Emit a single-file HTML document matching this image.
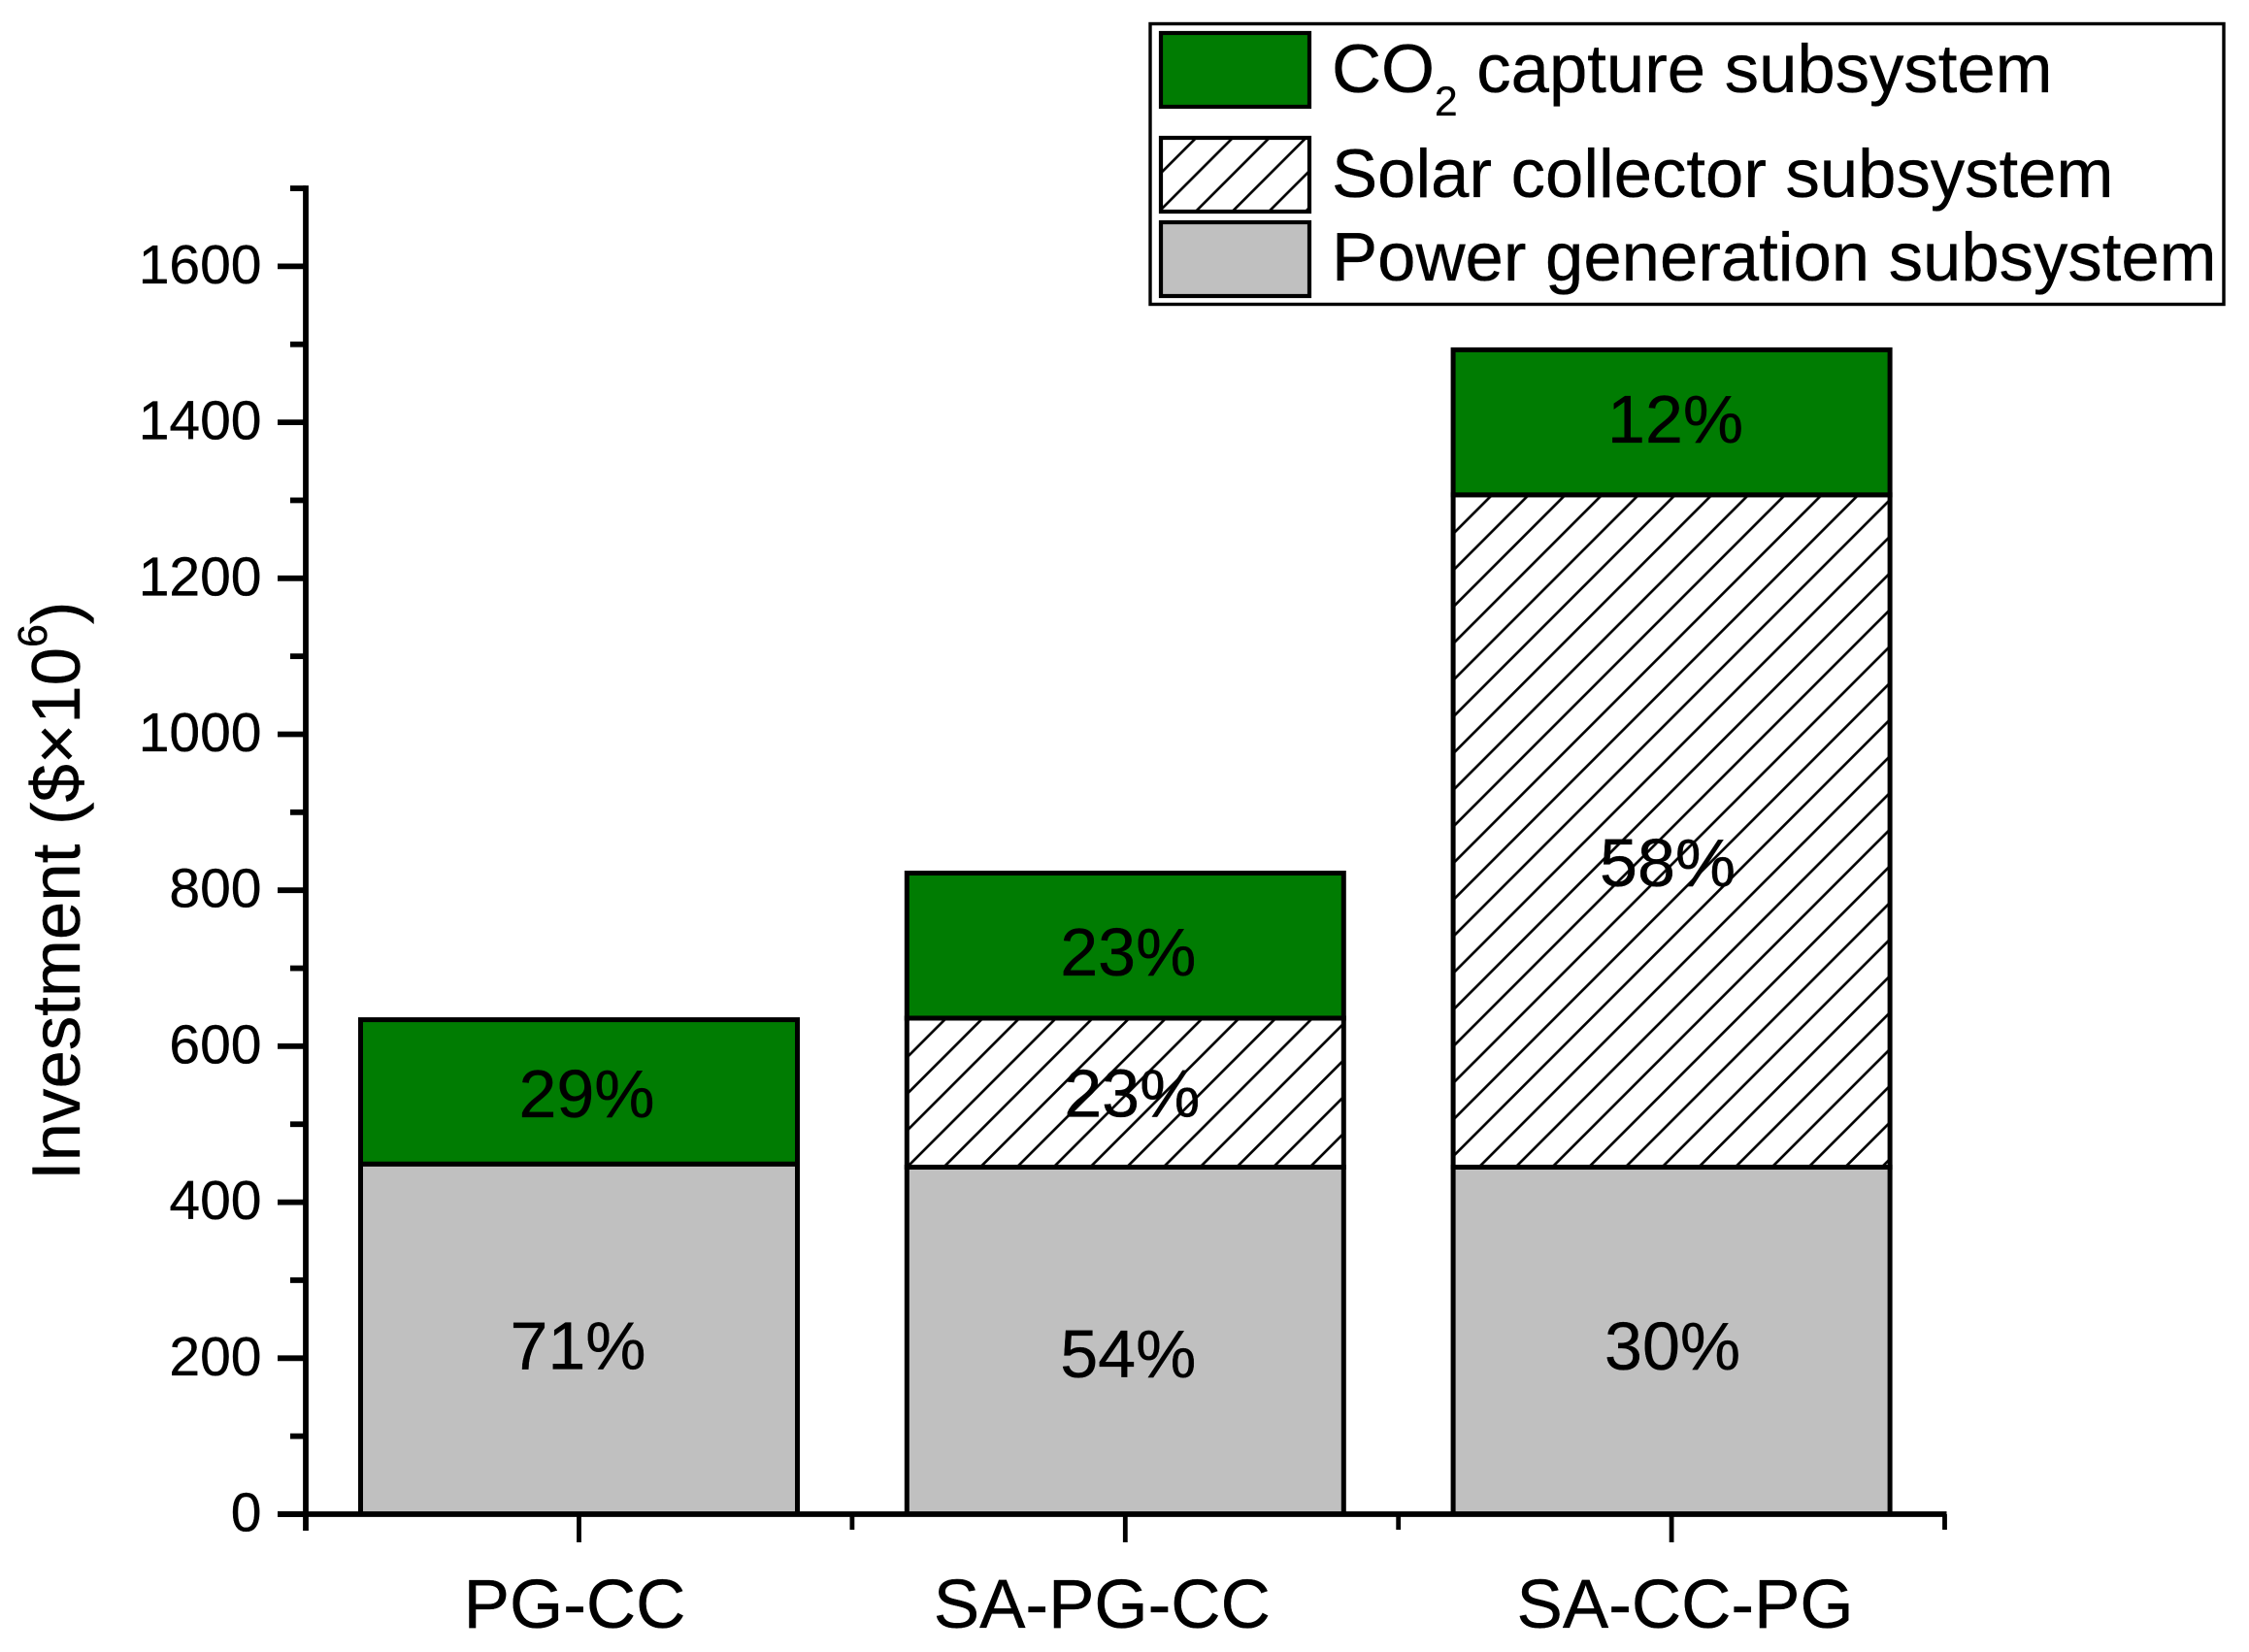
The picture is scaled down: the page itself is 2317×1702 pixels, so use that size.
<!DOCTYPE html>
<html lang="en">
<head>
<meta charset="utf-8">
<title>Investment by subsystem</title>
<style>
html,body{margin:0;padding:0;background:#fff}
svg{display:block}
text{font-family:"Liberation Sans",Arial,sans-serif;fill:#000;stroke:#000;stroke-width:.35px}
</style>
</head>
<body>
<svg id="chart" xmlns="http://www.w3.org/2000/svg" width="2317" height="1702" viewBox="0 0 2317 1702">
  <defs>
    <pattern id="hatch-bar-2" patternUnits="userSpaceOnUse" width="37.73" height="37.73" patternTransform="translate(24.1 0)">
      <rect width="37.73" height="37.73" fill="#fff"/>
      <path d="M-4 41.73L41.73 -4M-4 4L4 -4M33.73 41.73L41.73 33.73" stroke="#000" stroke-width="2.7" fill="none"/>
    </pattern>
    <pattern id="hatch-bar-3" patternUnits="userSpaceOnUse" width="37.73" height="37.73" patternTransform="translate(9.6 0)">
      <rect width="37.73" height="37.73" fill="#fff"/>
      <path d="M-4 41.73L41.73 -4M-4 4L4 -4M33.73 41.73L41.73 33.73" stroke="#000" stroke-width="2.7" fill="none"/>
    </pattern>
    <pattern id="hatch-legend" patternUnits="userSpaceOnUse" width="37.73" height="37.73" patternTransform="translate(16 0)">
      <rect width="37.73" height="37.73" fill="#fff"/>
      <path d="M-4 41.73L41.73 -4M-4 4L4 -4M33.73 41.73L41.73 33.73" stroke="#000" stroke-width="2.7" fill="none"/>
    </pattern>
  </defs>

  <g id="bars"></g>
  <g id="bar-labels"></g>
  <g id="axes"></g>

  <text transform="translate(82 1216) rotate(-90)" font-size="70.8">Investment ($×10<tspan dy="-34" font-size="43">6</tspan><tspan dy="34">)</tspan></text>

  <g>
    <rect x="1185" y="24.5" width="1106" height="289" fill="#fff" stroke="#000" stroke-width="3.4"/>
    <rect x="1196" y="34" width="153" height="76" fill="#007c02" stroke="#000" stroke-width="4.2"/>
    <text x="1372" y="95" font-size="70.7">CO<tspan dy="24" font-size="42.5">2</tspan><tspan dy="-24"> capture subsystem</tspan></text>
    <rect x="1196" y="142" width="153" height="76" fill="url(#hatch-legend)" stroke="#000" stroke-width="4.2"/>
    <text x="1372" y="203" font-size="70.7">Solar collector subsystem</text>
    <rect x="1196" y="229" width="153" height="76" fill="#c0c0c0" stroke="#000" stroke-width="4.2"/>
    <text x="1372" y="289" font-size="70.7">Power generation subsystem</text>
  </g>
</svg>

<script>
const categories = ['PG-CC', 'SA-PG-CC', 'SA-CC-PG'];
const powerGeneration = [449, 445, 445];
const solarCollector = [0, 191, 862];
const co2Capture = [185, 186, 186];
const powerPercent = ['71%', '54%', '30%'];
const solarPercent = ['', '23%', '58%'];
const co2Percent = ['29%', '23%', '12%'];
const yTickValues = [0, 200, 400, 600, 800, 1000, 1200, 1400, 1600];
const yMinorValues = [100, 300, 500, 700, 900, 1100, 1300, 1500, 1700];

const NS = 'http://www.w3.org/2000/svg';
const yScale = v => 1560 - v * 0.8035;
const xScale = i => 596.5 + i * 281.4 * 2;
const BAR_W = 450;

function make(tag, parent, attrs, text) {
  const el = document.createElementNS(NS, tag);
  for (const k in attrs) el.setAttribute(k, attrs[k]);
  if (text !== undefined) el.textContent = text;
  parent.appendChild(el);
  return el;
}

const barsG = document.getElementById('bars');
const labelsG = document.getElementById('bar-labels');
const axesG = document.getElementById('axes');

/* manual placement of labels relative to the segment centre, as in the source figure */
const powerNudge = [[-1, 31], [3, 38], [1, 30]];
const solarNudge = [[0, 0], [7, 25], [-4, 57]];
const co2Nudge = [[8, 26], [3, 31], [4, 21]];

categories.forEach((cat, i) => {
  const cx = xScale(i);
  const x = cx - BAR_W / 2;
  const segs = [
    { key: 'power', v: powerGeneration[i], fill: '#c0c0c0', pct: powerPercent[i], n: powerNudge[i] },
    { key: 'solar', v: solarCollector[i], fill: 'url(#hatch-bar-' + (i + 1) + ')', pct: solarPercent[i], n: solarNudge[i] },
    { key: 'co2', v: co2Capture[i], fill: '#007c02', pct: co2Percent[i], n: co2Nudge[i] }
  ];
  let base = 0;
  segs.forEach(s => {
    if (s.v > 0) {
      const top = base + s.v;
      const rect = make('rect', barsG, {
        x: x, y: yScale(top), width: BAR_W, height: yScale(base) - yScale(top),
        fill: s.fill, stroke: '#000', 'stroke-width': 5
      });
      
      
      const label = make('text', labelsG, {
        x: cx + s.n[0], y: yScale(base + s.v / 2) + s.n[1],
        'font-size': 70, 'text-anchor': 'middle'
      }, s.pct);
      
      
      base = top;
    }
  });
});

/* y axis */
const yAxisLine = make('line', axesG, { x1: 315, x2: 315, y1: yScale(1700) - 2.9, y2: 1577, stroke: '#000', 'stroke-width': 5.8 });



yTickValues.forEach(v => {
  const tick = make('line', axesG, { x1: 286, x2: 315, y1: yScale(v), y2: yScale(v), stroke: '#000', 'stroke-width': 5.8 });
  
  
  const lab = make('text', axesG, { x: 269.5, y: yScale(v) + 17.5, 'font-size': 57, 'text-anchor': 'end' }, String(v));
  
  
});
yMinorValues.forEach(v => {
  const tick = make('line', axesG, { x1: 299, x2: 315, y1: yScale(v), y2: yScale(v), stroke: '#000', 'stroke-width': 5.8 });
  
  
});

/* x axis */
const xAxisLine = make('line', axesG, { x1: 286, x2: 2005.5, y1: 1560, y2: 1560, stroke: '#000', 'stroke-width': 5.8 });



const xLabelNudge = [-4.5, -24, 14];
categories.forEach((cat, i) => {
  const cx = xScale(i);
  const tick = make('line', axesG, { x1: cx, x2: cx, y1: 1560, y2: 1589, stroke: '#000', 'stroke-width': 4.8 });
  
  
  const lab = make('text', axesG, { x: cx + xLabelNudge[i], y: 1677, 'font-size': 71, 'text-anchor': 'middle' }, cat);
  
  
});
for (let i = 0; i <= categories.length; i++) {
  const mx = xScale(i) - 281.4;
  const tick = make('line', axesG, { x1: mx, x2: mx, y1: 1560, y2: 1576, stroke: '#000', 'stroke-width': 4.8 });
  
  
}
</script>
</body>
</html>
